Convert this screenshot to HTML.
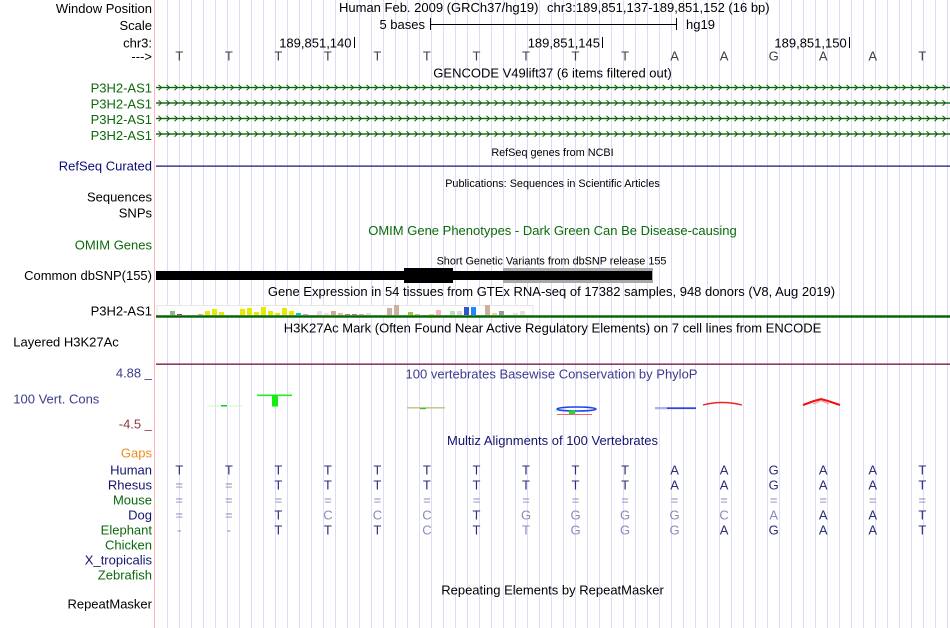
<!DOCTYPE html>
<html><head><meta charset="utf-8"><style>
html,body{margin:0;padding:0;background:#fff;width:950px;height:628px;overflow:hidden}
svg{display:block}
text{font-family:"Liberation Sans",Arial,Helvetica,sans-serif;font-size:13px;fill:#000}
.e{text-anchor:end}
.c{text-anchor:middle}
.s{font-size:10.85px}
.g{fill:#0b6a0b}
.n{fill:#14146e}
.b{fill:#3c3c8c}
.d{fill:#2a2f78}
.lt{fill:#8a8abb}
.r{fill:#404040}
</style></head><body>
<svg width="950" height="628" xmlns="http://www.w3.org/2000/svg">
<defs>
<pattern id="grid" x="167" y="0" width="12" height="628" patternUnits="userSpaceOnUse"><rect x="0" y="0" width="1" height="628" fill="#dcdcfa"/></pattern>
<pattern id="chev" x="156" y="-4" width="8" height="8" patternUnits="userSpaceOnUse"><path d="M2.5 1.2 L5.5 4 L2.5 6.8" fill="none" stroke="#0a640a" stroke-width="1"/></pattern>
</defs>
<rect width="950" height="628" fill="#fff"/>
<rect x="156" y="0" width="794" height="628" fill="url(#grid)"/>
<rect x="154" y="0" width="1" height="628" fill="#ffb4b4"/>

<!-- header -->
<text class="e" x="152" y="13">Window Position</text>
<text x="339" y="12">Human Feb. 2009 (GRCh37/hg19)</text>
<text x="547" y="12">chr3:189,851,137-189,851,152 (16 bp)</text>
<text class="e" x="152" y="30">Scale</text>
<text class="e" x="425" y="29">5 bases</text>
<rect x="430" y="18" width="1" height="12" fill="#000"/>
<rect x="430" y="24" width="246" height="1" fill="#000"/>
<rect x="676" y="18" width="1" height="12" fill="#000"/>
<text x="686" y="29">hg19</text>
<text class="e" x="152" y="47.7">chr3:</text>
<text class="e" x="351.5" y="47.7">189,851,140</text>
<rect x="354" y="37" width="1" height="11" fill="#000"/>
<text class="e" x="600" y="47.7">189,851,145</text>
<rect x="602" y="37" width="1" height="11" fill="#000"/>
<text class="e" x="846.7" y="47.7">189,851,150</text>
<rect x="849" y="37" width="1" height="11" fill="#000"/>
<text class="e" x="152" y="61">---&gt;</text>
<g class="r">
<text class="c r" x="179.3" y="60.5">T</text><text class="c r" x="228.8" y="60.5">T</text><text class="c r" x="278.4" y="60.5">T</text><text class="c r" x="327.9" y="60.5">T</text><text class="c r" x="377.4" y="60.5">T</text><text class="c r" x="426.9" y="60.5">T</text><text class="c r" x="476.5" y="60.5">T</text><text class="c r" x="526" y="60.5">T</text><text class="c r" x="575.5" y="60.5">T</text><text class="c r" x="625.1" y="60.5">T</text><text class="c r" x="674.6" y="60.5">A</text><text class="c r" x="724.1" y="60.5">A</text><text class="c r" x="773.7" y="60.5">G</text><text class="c r" x="823.2" y="60.5">A</text><text class="c r" x="872.7" y="60.5">A</text><text class="c r" x="922.3" y="60.5">T</text>
</g>

<!-- GENCODE -->
<text class="c" x="552.5" y="77.5">GENCODE V49lift37 (6 items filtered out)</text>
<text class="e g" x="152" y="92.5">P3H2-AS1</text>
<text class="e g" x="152" y="108.3">P3H2-AS1</text>
<text class="e g" x="152" y="124">P3H2-AS1</text>
<text class="e g" x="152" y="139.8">P3H2-AS1</text>
<g transform="translate(0,87.5)"><rect x="156" y="-0.7" width="794" height="1.4" fill="#0a640a"/><rect x="156" y="-4" width="794" height="8" fill="url(#chev)"/></g>
<g transform="translate(0,103)"><rect x="156" y="-0.7" width="794" height="1.4" fill="#0a640a"/><rect x="156" y="-4" width="794" height="8" fill="url(#chev)"/></g>
<g transform="translate(0,118.5)"><rect x="156" y="-0.7" width="794" height="1.4" fill="#0a640a"/><rect x="156" y="-4" width="794" height="8" fill="url(#chev)"/></g>
<g transform="translate(0,134)"><rect x="156" y="-0.7" width="794" height="1.4" fill="#0a640a"/><rect x="156" y="-4" width="794" height="8" fill="url(#chev)"/></g>

<!-- RefSeq -->
<text class="c s" x="552.5" y="156">RefSeq genes from NCBI</text>
<text class="e" x="152" y="170.7" style="fill:#0c0c78">RefSeq Curated</text>
<rect x="156" y="165.5" width="794" height="1.2" fill="#0c0c78"/>

<text class="c s" x="552.5" y="187">Publications: Sequences in Scientific Articles</text>
<text class="e" x="152" y="201.7">Sequences</text>
<text class="e" x="152" y="217.5">SNPs</text>

<text class="c g" x="552.5" y="235">OMIM Gene Phenotypes - Dark Green Can Be Disease-causing</text>
<text class="e g" x="152" y="249.3">OMIM Genes</text>

<!-- dbSNP -->
<text class="c s" x="551.5" y="264.5">Short Genetic Variants from dbSNP release 155</text>
<text class="e" x="152" y="280">Common dbSNP(155)</text>
<rect x="503" y="268" width="150" height="15" fill="#a8a8a8"/>
<rect x="156" y="271" width="496" height="9" fill="#000"/>
<rect x="404" y="268" width="49" height="15" fill="#000"/>

<!-- GTEx -->
<text class="c" x="551.5" y="296">Gene Expression in 54 tissues from GTEx RNA-seq of 17382 samples, 948 donors (V8, Aug 2019)</text>
<text class="e" x="152" y="315.7">P3H2-AS1</text>
<rect x="157" y="305.5" width="376" height="10" fill="#fff" stroke="#e6e6e6" stroke-width="1"/>
<g>
<rect x="170" y="311" width="5" height="4" fill="#88bb88"/>
<rect x="177" y="314" width="5" height="1" fill="#aa3388"/>
<rect x="198" y="314" width="5" height="1" fill="#ccaa99"/>
<rect x="205" y="311" width="5" height="4" fill="#e8e800"/>
<rect x="212" y="309" width="5" height="6" fill="#e8e800"/>
<rect x="219" y="312" width="5" height="3" fill="#e8e800"/>
<rect x="240" y="309" width="5" height="6" fill="#e8e800"/>
<rect x="247" y="308" width="5" height="7" fill="#e8e800"/>
<rect x="254" y="312" width="5" height="3" fill="#e8e800"/>
<rect x="261" y="307" width="5" height="8" fill="#e8e800"/>
<rect x="268" y="311" width="5" height="4" fill="#e8e800"/>
<rect x="275" y="313" width="5" height="2" fill="#e8e800"/>
<rect x="282" y="308" width="5" height="7" fill="#e8e800"/>
<rect x="289" y="311" width="5" height="4" fill="#e8e800"/>
<rect x="296" y="313" width="5" height="2" fill="#00cccc"/>
<rect x="303" y="314" width="5" height="1" fill="#ee88ee"/>
<rect x="317" y="311" width="5" height="4" fill="#eedddd"/>
<rect x="324" y="313" width="5" height="2" fill="#eedddd"/>
<rect x="331" y="311" width="5" height="4" fill="#ccaa99"/>
<rect x="338" y="313" width="5" height="2" fill="#eebb88"/>
<rect x="345" y="314" width="5" height="1" fill="#998877"/>
<rect x="352" y="314" width="5" height="1" fill="#998877"/>
<rect x="359" y="314" width="5" height="1" fill="#ccaa88"/>
<rect x="366" y="313" width="5" height="2" fill="#eedddd"/>
<rect x="387" y="308" width="5" height="7" fill="#ccb0a0"/>
<rect x="394" y="305" width="5" height="10" fill="#ccb0a0"/>
<rect x="408" y="312" width="5" height="3" fill="#99cc33"/>
<rect x="415" y="314" width="5" height="1" fill="#ccbbaa"/>
<rect x="429" y="314" width="5" height="1" fill="#eedd00"/>
<rect x="436" y="310" width="5" height="5" fill="#ffb0c0"/>
<rect x="450" y="311" width="5" height="4" fill="#b0e8b0"/>
<rect x="457" y="311" width="5" height="4" fill="#d8d8d8"/>
<rect x="464" y="307" width="5" height="8" fill="#3355cc"/>
<rect x="471" y="307" width="5" height="8" fill="#2288ff"/>
<rect x="485" y="305" width="5" height="10" fill="#ccb099"/>
<rect x="492" y="313" width="5" height="2" fill="#ffcc99"/>
<rect x="499" y="311" width="5" height="4" fill="#999999"/>
<rect x="513" y="313" width="5" height="2" fill="#eedddd"/>
<rect x="520" y="311" width="5" height="4" fill="#eedddd"/>
</g>
<rect x="156" y="315.3" width="794" height="2.4" fill="#006400"/>

<!-- H3K27Ac -->
<text class="c" x="552.5" y="332.3">H3K27Ac Mark (Often Found Near Active Regulatory Elements) on 7 cell lines from ENCODE</text>
<text x="13.3" y="346.5">Layered H3K27Ac</text>
<rect x="156" y="363.5" width="794" height="1.3" fill="#6e1232"/>

<!-- PhyloP -->
<text class="c b" x="551.5" y="378.5">100 vertebrates Basewise Conservation by PhyloP</text>
<text class="e b" x="152" y="377.3">4.88 _</text>
<text class="b" x="13.3" y="403.3">100 Vert. Cons</text>
<text class="e" x="152" y="428.3" style="fill:#8c3c3c">-4.5 _</text>
<rect x="207" y="405.5" width="35" height="1" fill="#d4f4d4"/>
<rect x="221" y="405" width="6" height="1.6" fill="#22cc22"/>
<rect x="257" y="394.5" width="35" height="1.6" fill="#22ee22"/>
<rect x="272" y="395" width="6" height="11.5" fill="#11ee11"/>
<rect x="407" y="407" width="38" height="1.6" fill="#c8c88c"/>
<rect x="420" y="408" width="6" height="1.2" fill="#22cc22"/>
<rect x="554" y="410.5" width="16" height="0.8" fill="#bde8bd"/>
<ellipse cx="576.5" cy="409" rx="19.5" ry="2" fill="none" stroke="#2244ee" stroke-width="1.6"/>
<rect x="569" y="410.5" width="6" height="3.5" fill="#22dd22"/>
<rect x="557" y="414" width="35" height="0.9" fill="#ee5555"/>
<rect x="655" y="407.3" width="41" height="1.8" fill="#3344dd"/>
<rect x="655" y="407.3" width="12" height="1.8" fill="#aab0ee"/>
<path d="M703 405 Q722 400 742 405" fill="none" stroke="#ee2222" stroke-width="1.4"/>
<path d="M803 405 L814 401 L821 399 L828 401 L840 405" fill="none" stroke="#ee1111" stroke-width="2"/>
<path d="M813 404 L821 400.5 L829 404" fill="none" stroke="#ff8888" stroke-width="1"/>

<!-- Multiz -->
<text class="c n" x="552.5" y="445">Multiz Alignments of 100 Vertebrates</text>
<text class="e" x="152" y="457.5" style="fill:#ef8c1a">Gaps</text>
<text class="e n" x="152" y="474.3">Human</text>
<text class="e n" x="152" y="489.3">Rhesus</text>
<text class="e g" x="152" y="504.3">Mouse</text>
<text class="e n" x="152" y="519.3">Dog</text>
<text class="e g" x="152" y="534.3">Elephant</text>
<text class="e g" x="152" y="549.3">Chicken</text>
<text class="e n" x="152" y="564.3">X_tropicalis</text>
<text class="e g" x="152" y="579.3">Zebrafish</text>

<!-- Human -->
<g>
<text class="c d" x="179.3" y="474.3">T</text><text class="c d" x="228.8" y="474.3">T</text><text class="c d" x="278.4" y="474.3">T</text><text class="c d" x="327.9" y="474.3">T</text><text class="c d" x="377.4" y="474.3">T</text><text class="c d" x="426.9" y="474.3">T</text><text class="c d" x="476.5" y="474.3">T</text><text class="c d" x="526" y="474.3">T</text><text class="c d" x="575.5" y="474.3">T</text><text class="c d" x="625.1" y="474.3">T</text><text class="c d" x="674.6" y="474.3">A</text><text class="c d" x="724.1" y="474.3">A</text><text class="c d" x="773.7" y="474.3">G</text><text class="c d" x="823.2" y="474.3">A</text><text class="c d" x="872.7" y="474.3">A</text><text class="c d" x="922.3" y="474.3">T</text>
</g>
<!-- Rhesus -->
<g>
<text class="c lt" x="179.3" y="489.3">=</text><text class="c lt" x="228.8" y="489.3">=</text><text class="c d" x="278.4" y="489.3">T</text><text class="c d" x="327.9" y="489.3">T</text><text class="c d" x="377.4" y="489.3">T</text><text class="c d" x="426.9" y="489.3">T</text><text class="c d" x="476.5" y="489.3">T</text><text class="c d" x="526" y="489.3">T</text><text class="c d" x="575.5" y="489.3">T</text><text class="c d" x="625.1" y="489.3">T</text><text class="c d" x="674.6" y="489.3">A</text><text class="c d" x="724.1" y="489.3">A</text><text class="c d" x="773.7" y="489.3">G</text><text class="c d" x="823.2" y="489.3">A</text><text class="c d" x="872.7" y="489.3">A</text><text class="c d" x="922.3" y="489.3">T</text>
</g>
<!-- Mouse -->
<g>
<text class="c lt" x="179.3" y="504.3">=</text><text class="c lt" x="228.8" y="504.3">=</text><text class="c lt" x="278.4" y="504.3">=</text><text class="c lt" x="327.9" y="504.3">=</text><text class="c lt" x="377.4" y="504.3">=</text><text class="c lt" x="426.9" y="504.3">=</text><text class="c lt" x="476.5" y="504.3">=</text><text class="c lt" x="526" y="504.3">=</text><text class="c lt" x="575.5" y="504.3">=</text><text class="c lt" x="625.1" y="504.3">=</text><text class="c lt" x="674.6" y="504.3">=</text><text class="c lt" x="724.1" y="504.3">=</text><text class="c lt" x="773.7" y="504.3">=</text><text class="c lt" x="823.2" y="504.3">=</text><text class="c lt" x="872.7" y="504.3">=</text><text class="c lt" x="922.3" y="504.3">=</text>
</g>
<!-- Dog -->
<g>
<text class="c lt" x="179.3" y="519.3">=</text><text class="c lt" x="228.8" y="519.3">=</text><text class="c d" x="278.4" y="519.3">T</text><text class="c lt" x="327.9" y="519.3">C</text><text class="c lt" x="377.4" y="519.3">C</text><text class="c lt" x="426.9" y="519.3">C</text><text class="c d" x="476.5" y="519.3">T</text><text class="c lt" x="526" y="519.3">G</text><text class="c lt" x="575.5" y="519.3">G</text><text class="c lt" x="625.1" y="519.3">G</text><text class="c lt" x="674.6" y="519.3">G</text><text class="c lt" x="724.1" y="519.3">C</text><text class="c lt" x="773.7" y="519.3">A</text><text class="c d" x="823.2" y="519.3">A</text><text class="c d" x="872.7" y="519.3">A</text><text class="c d" x="922.3" y="519.3">T</text>
</g>
<!-- Elephant -->
<g>
<text class="c lt" x="179.3" y="534.3">-</text><text class="c lt" x="228.8" y="534.3">-</text><text class="c d" x="278.4" y="534.3">T</text><text class="c d" x="327.9" y="534.3">T</text><text class="c d" x="377.4" y="534.3">T</text><text class="c lt" x="426.9" y="534.3">C</text><text class="c d" x="476.5" y="534.3">T</text><text class="c lt" x="526" y="534.3">T</text><text class="c lt" x="575.5" y="534.3">G</text><text class="c lt" x="625.1" y="534.3">G</text><text class="c lt" x="674.6" y="534.3">G</text><text class="c d" x="724.1" y="534.3">A</text><text class="c d" x="773.7" y="534.3">G</text><text class="c d" x="823.2" y="534.3">A</text><text class="c d" x="872.7" y="534.3">A</text><text class="c d" x="922.3" y="534.3">T</text>
</g>

<!-- RepeatMasker -->
<text class="c" x="552.5" y="594.5">Repeating Elements by RepeatMasker</text>
<text class="e" x="152" y="608.3">RepeatMasker</text>
</svg>
</body></html>
